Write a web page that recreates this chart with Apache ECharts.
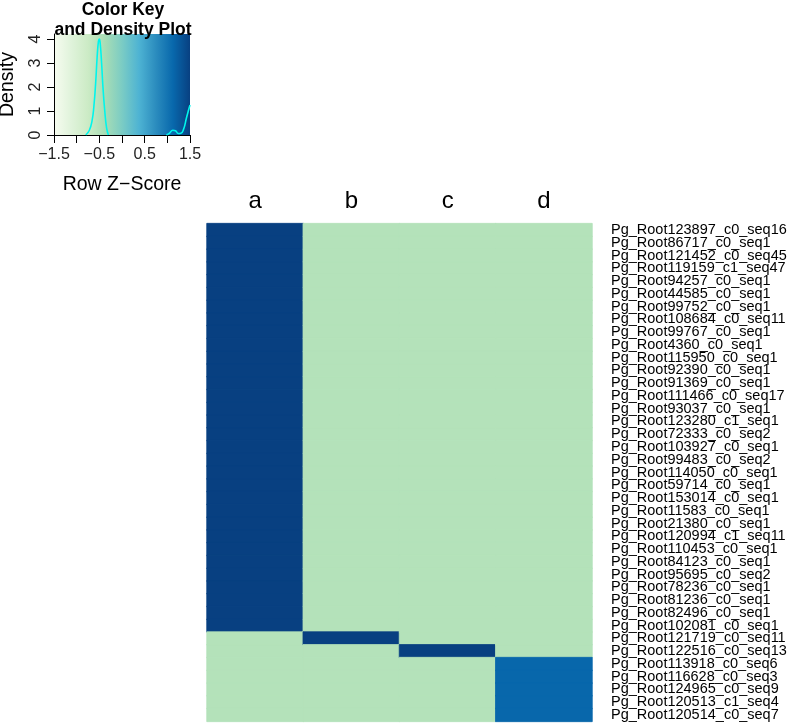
<!DOCTYPE html>
<html>
<head>
<meta charset="utf-8">
<script src="https://cdn.jsdelivr.net/npm/echarts@6/dist/echarts.min.js"></script>
<style>
  html, body { margin: 0; padding: 0; background: #fff; }
  #chart { width: 787px; height: 724px; }
</style>
</head>
<body>
<div id="chart"></div>
<script>
// columns of the heatmap
var columns = ['a', 'b', 'c', 'd'];

// row names, top to bottom
var rows = [
  'Pg_Root123897_c0_seq16', 'Pg_Root86717_c0_seq1', 'Pg_Root121452_c0_seq45',
  'Pg_Root119159_c1_seq47', 'Pg_Root94257_c0_seq1', 'Pg_Root44585_c0_seq1',
  'Pg_Root99752_c0_seq1', 'Pg_Root108684_c0_seq11', 'Pg_Root99767_c0_seq1',
  'Pg_Root4360_c0_seq1', 'Pg_Root115950_c0_seq1', 'Pg_Root92390_c0_seq1',
  'Pg_Root91369_c0_seq1', 'Pg_Root111466_c0_seq17', 'Pg_Root93037_c0_seq1',
  'Pg_Root123280_c1_seq1', 'Pg_Root72333_c0_seq2', 'Pg_Root103927_c0_seq1',
  'Pg_Root99483_c0_seq2', 'Pg_Root114050_c0_seq1', 'Pg_Root59714_c0_seq1',
  'Pg_Root153014_c0_seq1', 'Pg_Root11583_c0_seq1', 'Pg_Root21380_c0_seq1',
  'Pg_Root120994_c1_seq11', 'Pg_Root110453_c0_seq1', 'Pg_Root84123_c0_seq1',
  'Pg_Root95695_c0_seq2', 'Pg_Root78236_c0_seq1', 'Pg_Root81236_c0_seq1',
  'Pg_Root82496_c0_seq1', 'Pg_Root102081_c0_seq1', 'Pg_Root121719_c0_seq11',
  'Pg_Root122516_c0_seq13', 'Pg_Root113918_c0_seq6', 'Pg_Root116628_c0_seq3',
  'Pg_Root124965_c0_seq9', 'Pg_Root120513_c1_seq4', 'Pg_Root120514_c0_seq7'
];

// row z-scores per column (a, b, c, d)
var zA = [1.5, 1.5, 1.5, 1.5, 1.5, 1.5, 1.5, 1.5, 1.5, 1.5, 1.5, 1.5, 1.5,
          1.5, 1.5, 1.5, 1.5, 1.5, 1.5, 1.5, 1.5, 1.5, 1.5, 1.5, 1.5, 1.5,
          1.5, 1.5, 1.5, 1.5, 1.5, 1.5, -0.5, -0.5, -0.5, -0.5, -0.5, -0.5, -0.5];
var zB = [-0.5, -0.5, -0.5, -0.5, -0.5, -0.5, -0.5, -0.5, -0.5, -0.5, -0.5, -0.5, -0.5,
          -0.5, -0.5, -0.5, -0.5, -0.5, -0.5, -0.5, -0.5, -0.5, -0.5, -0.5, -0.5, -0.5,
          -0.5, -0.5, -0.5, -0.5, -0.5, -0.5, 1.5, -0.5, -0.5, -0.5, -0.5, -0.5, -0.5];
var zC = [-0.5, -0.5, -0.5, -0.5, -0.5, -0.5, -0.5, -0.5, -0.5, -0.5, -0.5, -0.5, -0.5,
          -0.5, -0.5, -0.5, -0.5, -0.5, -0.5, -0.5, -0.5, -0.5, -0.5, -0.5, -0.5, -0.5,
          -0.5, -0.5, -0.5, -0.5, -0.5, -0.5, -0.5, 1.5, -0.5, -0.5, -0.5, -0.5, -0.5];
var zD = [-0.5, -0.5, -0.5, -0.5, -0.5, -0.5, -0.5, -0.5, -0.5, -0.5, -0.5, -0.5, -0.5,
          -0.5, -0.5, -0.5, -0.5, -0.5, -0.5, -0.5, -0.5, -0.5, -0.5, -0.5, -0.5, -0.5,
          -0.5, -0.5, -0.5, -0.5, -0.5, -0.5, -0.5, -0.5, 1.13, 1.13, 1.13, 1.13, 1.13];

// density curve of the colour key (two visible pieces)
var densX1 = [-0.80, -0.72, -0.66, -0.62, -0.58, -0.55, -0.52, -0.50, -0.48, -0.45, -0.42, -0.38, -0.34, -0.30];
var densY1 = [0, 0.2, 0.6, 1.2, 2.2, 3.2, 3.9, 4.0, 3.8, 3.0, 2.0, 1.0, 0.3, 0];
var densX2 = [0.98, 1.05, 1.12, 1.18, 1.24, 1.30, 1.36, 1.42, 1.47, 1.50];
var densY2 = [0, 0.08, 0.2, 0.18, 0.06, 0.07, 0.25, 0.7, 1.05, 1.25];

// key axis ticks
var keyXTicks = [-1.5, -1, -0.5, 0, 0.5, 1, 1.5];
var keyXLabels = [-1.5, -0.5, 0.5, 1.5];
var keyYTicks = [0, 1, 2, 3, 4];

var gnbu = ['#f7fcf0', '#e0f3db', '#ccebc5', '#a8ddb5', '#7bccc4',
            '#4eb3d3', '#2b8cbe', '#0868ac', '#084081'];
var zMin = -1.5, zMax = 1.5;

// colour each cell from its value (same scale as the key), border in the
// same colour so neighbouring cells leave no seams
var cols = [zA, zB, zC, zD];
var heatData = [];
cols.forEach(function (col, ci) {
  col.forEach(function (v, ri) {
    var c = echarts.color.lerp((v - zMin) / (zMax - zMin), gnbu);
    heatData.push({
      value: [ci, ri, v],
      itemStyle: { color: c, borderColor: c, borderWidth: 0.8 }
    });
  });
});

var pairs = function (xs, ys) {
  return xs.map(function (x, i) { return [x, ys[i]]; });
};
var minus = function (v) { return String(v).replace('-', '\u2212'); };

var font = 'Liberation Sans, Arial, sans-serif';
var myChart = echarts.init(document.getElementById('chart'));

var option = {
  animation: false,
  backgroundColor: '#fff',
  textStyle: { fontFamily: font },
  title: {
    text: 'Color Key\nand Density Plot',
    left: 118,
    top: -5,
    textAlign: 'center',
    textStyle: { fontSize: 17.5, fontWeight: 'bold', color: '#000', lineHeight: 20, fontFamily: font }
  },
  grid: [
    {
      left: 54, top: 34, width: 136, height: 101,
      outerBoundsMode: 'none',
      show: true, borderWidth: 0,
      backgroundColor: {
        type: 'linear', x: 0, y: 0, x2: 1, y2: 0,
        colorStops: gnbu.map(function (c, i) { return { offset: i / (gnbu.length - 1), color: c }; })
      }
    },
    { left: 207, top: 223.6, width: 385, height: 497.8, outerBoundsMode: 'none' }
  ],
  xAxis: [
    {
      gridIndex: 0, type: 'value', min: zMin, max: zMax,
      splitLine: { show: false },
      axisLine: { show: true, onZero: false, lineStyle: { color: '#000', width: 1 } },
      axisTick: { show: true, length: 8, customValues: keyXTicks, lineStyle: { color: '#000' } },
      axisLabel: { customValues: keyXLabels, formatter: minus, margin: 12, fontSize: 16, color: '#222', fontFamily: font },
      name: 'Row Z\u2212Score', nameLocation: 'middle', nameGap: 40,
      nameTextStyle: { fontSize: 19.5, color: '#000', fontFamily: font }
    },
    {
      gridIndex: 1, type: 'category', data: columns, position: 'top',
      axisLine: { show: false }, axisTick: { show: false },
      axisLabel: { fontSize: 24, color: '#000', margin: 10, fontFamily: font },
      splitLine: { show: false }
    }
  ],
  yAxis: [
    {
      gridIndex: 0, type: 'value', min: 0, max: 4.21,
      splitLine: { show: false },
      axisLine: { show: true, onZero: false, lineStyle: { color: '#000', width: 1 } },
      axisTick: { show: true, length: 7, customValues: keyYTicks, lineStyle: { color: '#000' } },
      axisLabel: { customValues: keyYTicks, rotate: 90, margin: 10, fontSize: 16, color: '#222', fontFamily: font },
      name: 'Density', nameLocation: 'middle', nameGap: 36,
      nameTextStyle: { fontSize: 19.5, color: '#000', fontFamily: font }
    },
    {
      gridIndex: 1, type: 'category', data: rows, inverse: true, position: 'right',
      axisLine: { show: false }, axisTick: { show: false },
      axisLabel: { interval: 0, fontSize: 14.5, color: '#000', margin: 19, align: 'left', fontFamily: font },
      splitLine: { show: false }
    }
  ],
  series: [
    {
      type: 'line', xAxisIndex: 0, yAxisIndex: 0, data: pairs(densX1, densY1),
      smooth: true, symbol: 'none', lineStyle: { color: '#00f5ec', width: 1.6 }
    },
    {
      type: 'line', xAxisIndex: 0, yAxisIndex: 0, data: pairs(densX2, densY2),
      smooth: true, symbol: 'none', lineStyle: { color: '#00f5ec', width: 1.6 }
    },
    {
      type: 'heatmap', xAxisIndex: 1, yAxisIndex: 1, data: heatData
    }
  ]
};

myChart.setOption(option);
</script>
</body>
</html>
